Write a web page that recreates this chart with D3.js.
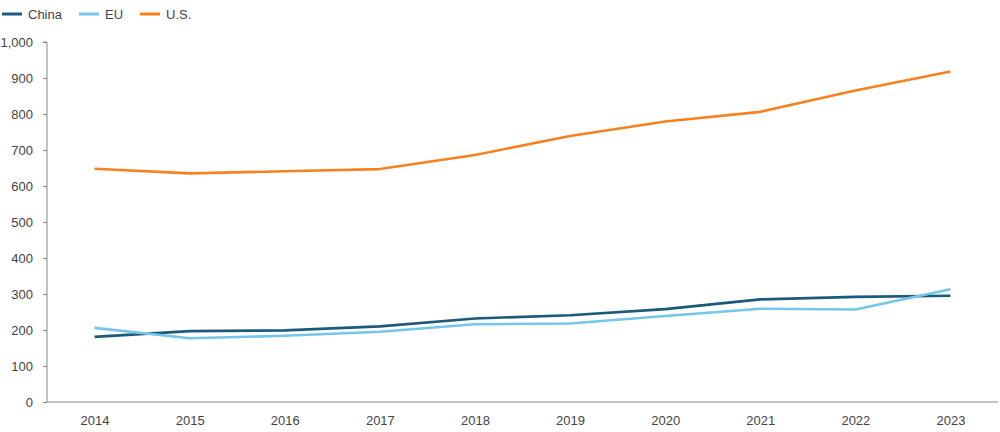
<!DOCTYPE html>
<html><head><meta charset="utf-8">
<script src="https://cdn.jsdelivr.net/npm/d3@7"></script>
<style>
html,body{margin:0;padding:0;background:#fff;}
svg{display:block;font-family:"Liberation Sans",Arial,sans-serif;}
</style></head>
<body><svg id="c" width="1000" height="432"></svg>
<script>
const years = ["2014","2015","2016","2017","2018","2019","2020","2021","2022","2023"];
const china = [181,197,199,210,232,241,258,285,292,295];
const eu    = [206,177,184,195,216,218,239,259,257,313];
const us    = [648,635,641,647,686,739,779,806,865,918];
const seriesNames = ["China","EU","U.S."];
const seriesColors = ["#1a5a7a","#74c6ea","#f6821f"];
const yTicks = [0,100,200,300,400,500,600,700,800,900,1000];

const svg = d3.select("#c");
const margin = {left:47, right:2, top:42, bottom:30};
const W = 1000, H = 432;
const x = d3.scalePoint().domain(years).range([margin.left, W - margin.right]).padding(0.5);
const y = d3.scaleLinear().domain([0,1000]).range([402, 42]);

// y axis
const ya = svg.append("g").attr("transform", `translate(${margin.left},0)`)
  .call(d3.axisLeft(y).tickValues(yTicks).tickSize(4).tickPadding(10).tickFormat(d3.format(",")));
ya.select(".domain").attr("stroke","#888").attr("d", `M-4,${y(1000)}H0V${y(0)}`);
ya.selectAll(".tick line").attr("stroke","#888");
ya.selectAll("text").attr("fill","#444").style("font-size","13px");

// x axis
const xa = svg.append("g").attr("transform", `translate(0,${y(0)})`)
  .call(d3.axisBottom(x).tickSize(0).tickPadding(14));
xa.select(".domain").attr("stroke","#888").attr("d", `M${margin.left},0H${W - margin.right}`);
xa.selectAll("text").attr("fill","#444").style("font-size","13px");

const data = [china, eu, us];
const line = d3.line().x((d,i)=>x(years[i])).y(d=>y(d));
data.forEach((s,k)=>{
  svg.append("path").datum(s).attr("d", line).attr("fill","none")
    .attr("stroke", seriesColors[k]).attr("stroke-width",2.6).attr("stroke-linejoin","round");
});

// legend
const legX = [2, 79, 140];
seriesNames.forEach((n,k)=>{
  const g = svg.append("g").attr("transform", `translate(${legX[k]},14)`);
  g.append("line").attr("x1",0).attr("x2",20).attr("y1",0).attr("y2",0)
    .attr("stroke", seriesColors[k]).attr("stroke-width",3);
  g.append("text").attr("x",26).attr("y",5).attr("fill","#444").style("font-size","13px").text(n);
});
</script></body></html>
